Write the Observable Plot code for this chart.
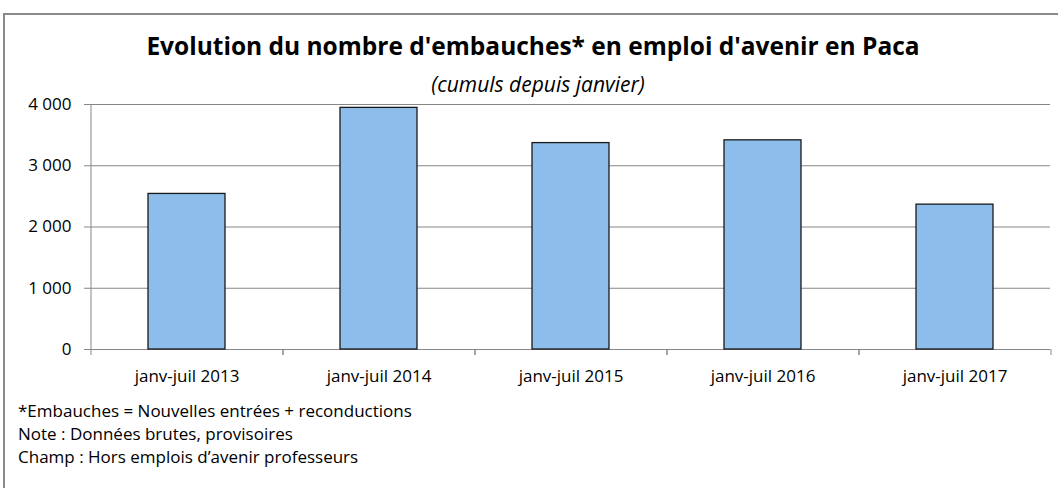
<!DOCTYPE html>
<html>
<head>
<meta charset="utf-8">
<script src="https://cdn.jsdelivr.net/npm/d3@7"></script>
<script src="https://cdn.jsdelivr.net/npm/@observablehq/plot@0.6"></script>
<style>
  html, body { margin: 0; padding: 0; background: #fff; }
  #root { position: relative; width: 1058px; height: 488px; overflow: hidden; font-family: "Open Sans", sans-serif; color: #000; }
  #frame { position: absolute; left: 3px; top: 13px; width: 1100px; height: 520px; border-top: 2px solid #8a8a8a; border-left: 2px solid #8a8a8a; }
  #title { position: absolute; left: 0; width: 1066px; top: 30px; text-align: center; font-weight: bold; font-size: 24.5px; line-height: 32px; }
  #subtitle { position: absolute; left: 0; width: 1076px; top: 71px; text-align: center; font-style: italic; font-size: 21px; line-height: 26px; }
  #chart { position: absolute; left: 0; top: 94px; }
  #notes { position: absolute; left: 18px; top: 399px; font-size: 17px; line-height: 23px; }
</style>
</head>
<body>
<div id="root">
  <div id="frame"></div>
  <div id="title"></div>
  <div id="subtitle"></div>
  <div id="chart"></div>
  <div id="notes"></div>
</div>
<script>
const titleText = "Evolution du nombre d'embauches* en emploi d'avenir en Paca";
const subtitleText = "(cumuls depuis janvier)";
const categories = ["janv-juil 2013", "janv-juil 2014", "janv-juil 2015", "janv-juil 2016", "janv-juil 2017"];
const values = [2540, 3945, 3370, 3415, 2365];
const yTicks = [0, 1000, 2000, 3000, 4000];
const yTickLabels = ["0", "1 000", "2 000", "3 000", "4 000"];
const notes = [
  "*Embauches = Nouvelles entrées + reconductions",
  "Note : Données brutes, provisoires",
  "Champ : Hors emplois d\u2019avenir professeurs"
];

const data = categories.map((c, i) => ({cat: c, value: values[i]}));

const W = 1058, H = 300, ML = 90, MR = 8, MT = 10, MB = 45;
const step = (W - ML - MR) / categories.length;
const gridColor = "#868686";

document.getElementById("title").textContent = titleText;
document.getElementById("subtitle").textContent = subtitleText;
document.getElementById("notes").innerHTML = notes.map(n => `<div>${n}</div>`).join("");

const chart = Plot.plot({
  width: W,
  height: H,
  marginLeft: ML,
  marginRight: MR,
  marginTop: MT,
  marginBottom: MB,
  style: {fontFamily: "Open Sans, sans-serif", fontSize: "17px", color: "#000", background: "transparent", overflow: "visible"},
  x: {domain: categories, paddingInner: 0.6, paddingOuter: 0.3, label: null},
  y: {domain: [0, 4000], label: null},
  marks: [
    Plot.gridY(yTicks, {stroke: gridColor, strokeOpacity: 1, strokeWidth: 1}),
    Plot.ruleX([categories[0]], {x: d => d, dx: -step / 2, y1: 0, y2: 4000, stroke: gridColor}),
    Plot.ruleY([0], {stroke: gridColor}),
    Plot.ruleX(categories, {x: d => d, dx: -step / 2, y1: 0, y2: 0, insetBottom: -6, stroke: gridColor}),
    Plot.ruleX(categories, {x: d => d, dx: step / 2, y1: 0, y2: 0, insetBottom: -6, stroke: gridColor}),
    Plot.barY(data, {x: "cat", y: "value", fill: "#8DBDEA", stroke: "#1a1a1a", strokeWidth: 1.3}),
    Plot.axisY({ticks: yTicks, tickFormat: (d) => yTickLabels[yTicks.indexOf(d)], tickSize: 6, tickPadding: 13, stroke: gridColor, color: "#000", fontSize: 17}),
    Plot.axisX({tickSize: 0, tickPadding: 20, color: "#000", fontSize: 17})
  ]
});
document.getElementById("chart").appendChild(chart);
</script>
</body>
</html>
